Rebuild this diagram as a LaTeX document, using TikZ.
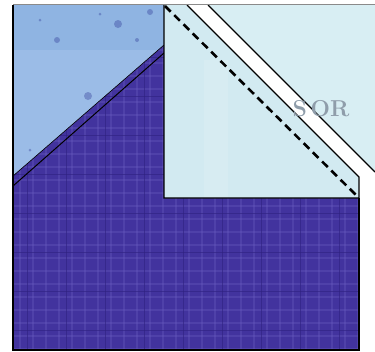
\documentclass[tikz,border=0pt]{standalone}
\usepackage{tikz}
\definecolor{skyA}{HTML}{8FB4E2}
\definecolor{skyB}{HTML}{9BBCE7}
\definecolor{plum}{HTML}{42339E}
\definecolor{plumlight}{HTML}{6A5CC0}
\definecolor{plumdark}{HTML}{2E2180}
\definecolor{ice}{HTML}{D2EAF1}
\definecolor{iceB}{HTML}{D8EEF3}
\definecolor{rim}{HTML}{8A8A8A}
\definecolor{mark}{HTML}{8F9DAA}
\tikzset{
  seam/.style={black, line width=1pt},
  cutline/.style={black, line width=2.6pt, dash pattern=on 8pt off 5pt},
  border/.style={black, line width=1.2pt},
  stripe/.style={line width=2pt, opacity=0.35},
}
\begin{document}
\begin{tikzpicture}[x=1pt,y=-1pt]
\useasboundingbox (0,0) rectangle (375,351);
% light blue top-left
\fill[skyB] (13,5) -- (164,5) -- (164,45) -- (13,176) -- cycle;
\fill[skyA] (13,5) rectangle (164,50);
\foreach \p/\r in {{(150,12)/3},{(118,24)/4},{(57,40)/3},{(40,20)/1.5},{(100,14)/1.5},{(137,40)/2},{(30,150)/1.5}} {\fill[blue!45!black, opacity=0.25] \p circle (\r);}
\fill[blue!45!black, opacity=0.25] (88,96) circle (4);
% purple region
\begin{scope}
\clip (13,176) -- (164,45) -- (164,198) -- (359,198) -- (359,350) -- (13,350) -- cycle;
\fill[plum] (0,0) rectangle (375,351);
\foreach \x in {20,33,...,360} {\draw[stripe, plumlight] (\x,0) -- (\x,351);}
\foreach \y in {50,63,...,350} {\draw[stripe, plumlight] (0,\y) -- (375,\y);}
\foreach \x in {27,66,...,360} {\draw[plumdark, line width=0.8pt, opacity=0.6] (\x,0) -- (\x,351);}
\foreach \y in {57,96,...,350} {\draw[plumdark, line width=0.8pt, opacity=0.6] (0,\y) -- (375,\y);}
\end{scope}
\draw[seam] (13,186) -- (164,53);
\draw[black, line width=0.6pt] (13,176) -- (164,45);
% pale lower piece
\fill[ice] (164,5) -- (187,5) -- (359,177) -- (359,198) -- (164,198) -- cycle;
\fill[white, opacity=0.12] (204,60) rectangle (228,198);
\draw[border] (187,5) -- (359,177) -- (359,198) -- (164,198) -- (164,5);
% pale upper triangle
\fill[iceB] (208,5) -- (375,5) -- (375,172) -- cycle;
\draw[border] (208,5) -- (375,172);
% dashed cutting line
\draw[cutline] (165,6) -- (358,197);
% outer border
\draw[rim, line width=1.2pt] (13,4.5) -- (375,4.5);
\draw[border] (13,4.5) -- (13,350) -- (359,350) -- (359,198);
% mark
\node[text=mark, font=\fontsize{23}{23}\selectfont\bfseries] (mk) at (321,109) {S\,OR};
\end{tikzpicture}
\end{document}
